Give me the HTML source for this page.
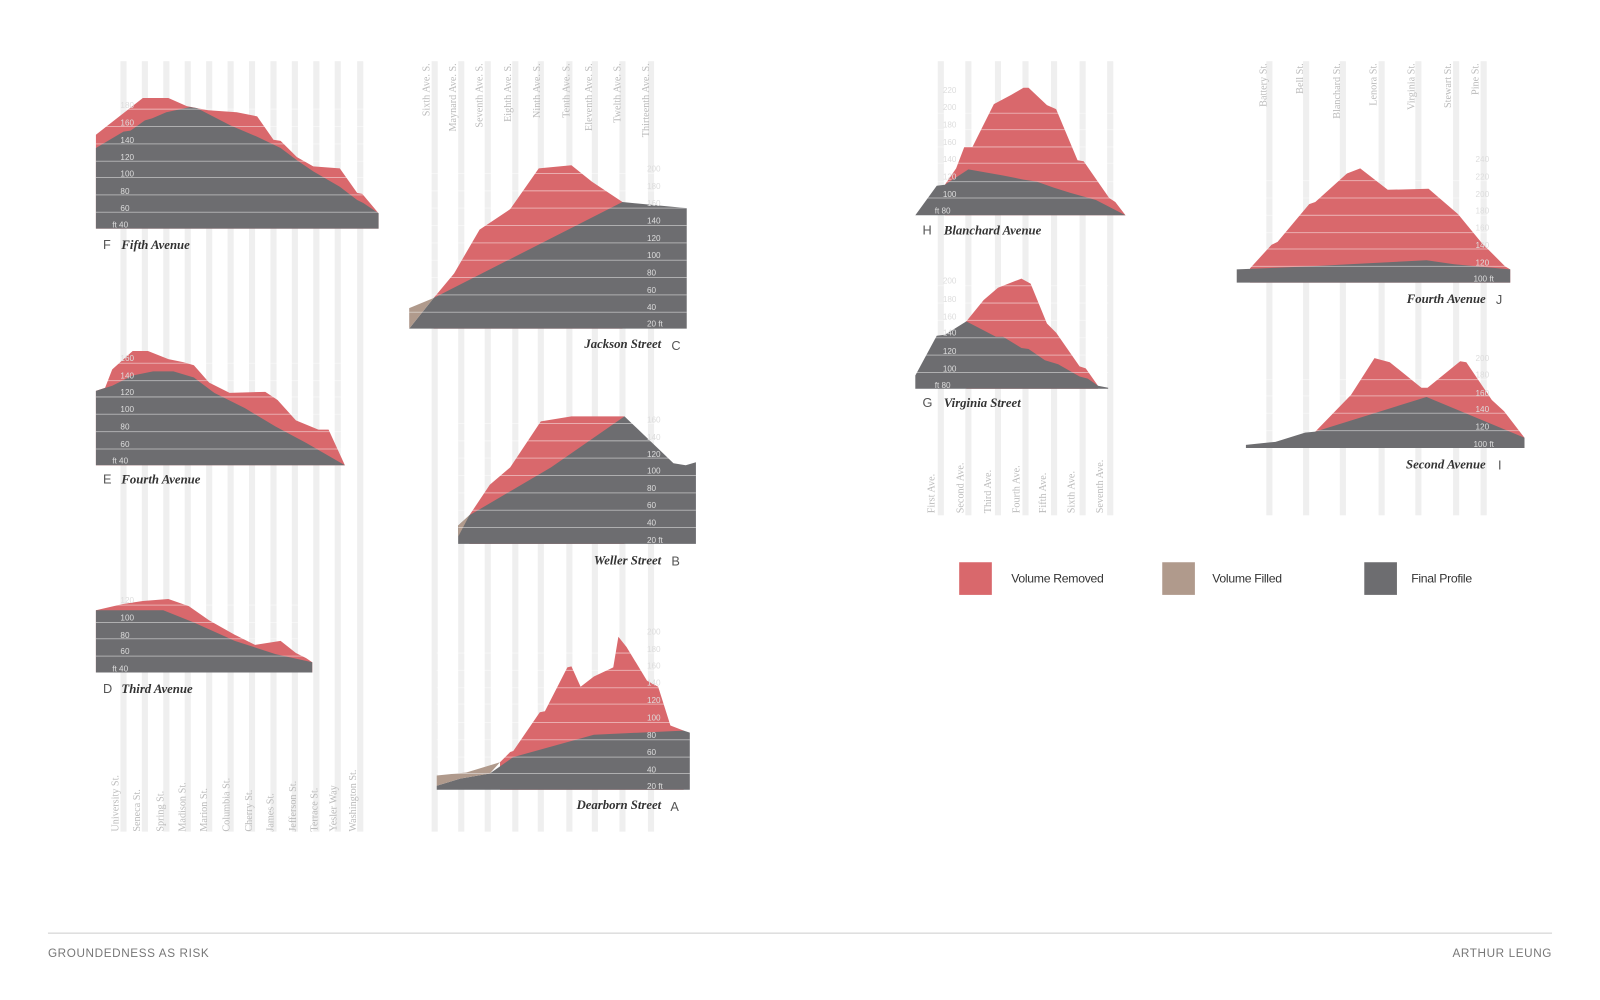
<!DOCTYPE html>
<html><head><meta charset="utf-8"><style>
html,body{margin:0;padding:0;background:#fff;width:1600px;height:1000px;overflow:hidden}
svg{display:block}
.st{fill:#efefef}
.r{fill:#d9686c}
.g{fill:#6d6d70}
.t{fill:#b09a8c}
.gl{stroke:#fff;stroke-opacity:.45;stroke-width:1}
.tk{font-family:"Liberation Sans",sans-serif;font-size:8px;fill:#ddd}
.sl{font-family:"Liberation Serif",serif;font-size:10px;fill:#bbb}
.ti{font-family:"Liberation Serif",serif;font-size:12.5px;font-style:italic;font-weight:bold;fill:#333}
.lt{font-family:"Liberation Sans",sans-serif;font-size:12.5px;fill:#555}
.lg{font-family:"Liberation Sans",sans-serif;font-size:12px;fill:#333;letter-spacing:-0.3px}
.ft{font-family:"Liberation Sans",sans-serif;font-size:11.5px;fill:#777;letter-spacing:0.6px}
</style></head><body>
<svg width="1600" height="1000" viewBox="0 0 1568 980" xmlns="http://www.w3.org/2000/svg">
<!-- stripes col1 -->
<g class="st">
<rect x="118" y="60" width="6" height="755"/><rect x="139" y="60" width="6" height="755"/><rect x="160" y="60" width="6" height="755"/><rect x="181" y="60" width="6" height="755"/><rect x="202" y="60" width="6" height="755"/><rect x="223" y="60" width="6" height="755"/><rect x="244" y="60" width="6" height="755"/><rect x="265" y="60" width="6" height="755"/><rect x="286" y="60" width="6" height="755"/><rect x="307" y="60" width="6" height="755"/><rect x="328" y="60" width="6" height="755"/><rect x="350" y="60" width="6" height="755"/>
<rect x="423" y="60" width="6" height="755"/><rect x="449" y="60" width="6" height="755"/><rect x="475" y="60" width="6" height="755"/><rect x="502" y="60" width="6" height="755"/><rect x="527" y="60" width="6" height="755"/><rect x="555" y="60" width="6" height="755"/><rect x="580" y="60" width="6" height="755"/><rect x="607" y="60" width="6" height="755"/><rect x="635" y="60" width="6" height="755"/>
<rect x="919" y="60" width="6" height="445"/><rect x="946" y="60" width="6" height="445"/><rect x="975" y="60" width="6" height="445"/><rect x="1002" y="60" width="6" height="445"/><rect x="1030" y="60" width="6" height="445"/><rect x="1058" y="60" width="6" height="445"/><rect x="1085" y="60" width="6" height="445"/>
<rect x="1241" y="60" width="6" height="445"/><rect x="1277" y="60" width="6" height="445"/><rect x="1313" y="60" width="6" height="445"/><rect x="1351" y="60" width="6" height="445"/><rect x="1387" y="60" width="6" height="445"/><rect x="1424" y="60" width="6" height="445"/><rect x="1451" y="60" width="6" height="445"/>
</g>
<!-- street labels -->
<g class="sl">
<text transform="translate(116,815) rotate(-90)">University St.</text>
<text transform="translate(137,815) rotate(-90)">Seneca St.</text>
<text transform="translate(160,815) rotate(-90)">Spring St.</text>
<text transform="translate(182,815) rotate(-90)">Madison St.</text>
<text transform="translate(203,815) rotate(-90)">Marion St.</text>
<text transform="translate(225,815) rotate(-90)">Columbia St.</text>
<text transform="translate(247,815) rotate(-90)">Cherry St.</text>
<text transform="translate(268,815) rotate(-90)">James St.</text>
<text transform="translate(290,815) rotate(-90)">Jefferson St.</text>
<text transform="translate(311,815) rotate(-90)">Terrace St.</text>
<text transform="translate(330,815) rotate(-90)">Yesler Way</text>
<text transform="translate(349,815) rotate(-90)">Washington St.</text>
</g>
<g class="sl" text-anchor="end">
<text transform="translate(421,62) rotate(-90)">Sixth Ave. S.</text>
<text transform="translate(447,62) rotate(-90)">Maynard Ave. S.</text>
<text transform="translate(473,62) rotate(-90)">Seventh Ave. S.</text>
<text transform="translate(501,62) rotate(-90)">Eighth Ave. S.</text>
<text transform="translate(529,62) rotate(-90)">Ninth Ave. S.</text>
<text transform="translate(558,62) rotate(-90)">Tenth Ave. S.</text>
<text transform="translate(580,62) rotate(-90)">Eleventh Ave. S.</text>
<text transform="translate(608,62) rotate(-90)">Twelth Ave. S.</text>
<text transform="translate(636,62) rotate(-90)">Thirteenth Ave. S.</text>
<text transform="translate(1241,62) rotate(-90)">Battery St.</text>
<text transform="translate(1277,62) rotate(-90)">Bell St.</text>
<text transform="translate(1313,62) rotate(-90)">Blanchard St.</text>
<text transform="translate(1349,62) rotate(-90)">Lenora St.</text>
<text transform="translate(1386,62) rotate(-90)">Virginia St.</text>
<text transform="translate(1422,62) rotate(-90)">Stewart St.</text>
<text transform="translate(1449,62) rotate(-90)">Pine St.</text>
</g>
<g class="sl">
<text transform="translate(916,503) rotate(-90)">First Ave.</text>
<text transform="translate(944,503) rotate(-90)">Second Ave.</text>
<text transform="translate(971,503) rotate(-90)">Third Ave.</text>
<text transform="translate(999,503) rotate(-90)">Fourth Ave.</text>
<text transform="translate(1025,503) rotate(-90)">Fifth Ave.</text>
<text transform="translate(1053,503) rotate(-90)">Sixth Ave.</text>
<text transform="translate(1081,503) rotate(-90)">Seventh Ave.</text>
</g>

<!-- F Fifth Avenue -->
<polygon class="r" points="94,132 140,96 165,96 183,104 204,108 232,110 252,114 268,137 275,138 291,154 307,163 333,165 350,189 355,190 371,209 371,224 94,224"/>
<polygon class="g" points="94,145 121,129 128,128 142,118 149,116 163,110 186,105 193,106 226,123 252,134 275,145 291,157 307,168 333,183 350,196 356,199 371,209 371,224 94,224"/>
<g class="gl"><line x1="94" x2="371" y1="208" y2="208"/><line x1="94" x2="371" y1="191" y2="191"/><line x1="94" x2="371" y1="174" y2="174"/><line x1="94" x2="371" y1="158" y2="158"/><line x1="94" x2="371" y1="141" y2="141"/><line x1="94" x2="371" y1="124" y2="124"/><line x1="94" x2="371" y1="107" y2="107"/></g>
<g class="tk"><text x="110" y="223">ft 40</text><text x="118" y="207">60</text><text x="118" y="190">80</text><text x="118" y="173">100</text><text x="118" y="157">120</text><text x="118" y="140">140</text><text x="118" y="123">160</text><text x="118" y="106">180</text></g>
<text class="lt" x="101" y="244">F</text><text class="ti" x="119" y="244">Fifth Avenue</text>

<!-- E Fourth Avenue -->
<polygon class="r" points="94,383 103,380 110,362 130,344 145,344 165,352 180,355 190,358 205,375 225,385 260,384 272,392 290,412 312,421 322,421 338,456 94,456"/>
<polygon class="g" points="94,383 110,378 130,368 150,364 170,364 190,370 210,385 240,400 270,418 300,434 338,456 94,456"/>
<g class="gl"><line x1="94" x2="338" y1="440" y2="440"/><line x1="94" x2="338" y1="423" y2="423"/><line x1="94" x2="338" y1="406" y2="406"/><line x1="94" x2="338" y1="389" y2="389"/><line x1="94" x2="338" y1="373" y2="373"/><line x1="94" x2="338" y1="356" y2="356"/></g>
<g class="tk"><text x="110" y="454">ft 40</text><text x="118" y="438">60</text><text x="118" y="421">80</text><text x="118" y="404">100</text><text x="118" y="387">120</text><text x="118" y="371">140</text><text x="118" y="354">160</text></g>
<text class="lt" x="101" y="474">E</text><text class="ti" x="119" y="474">Fourth Avenue</text>

<!-- D Third Avenue -->
<polygon class="r" points="94,598 120,592 140,589 165,587 185,594 205,608 230,622 250,632 275,628 290,640 300,645 306,649 306,659 94,659"/>
<polygon class="g" points="94,598 160,598 190,610 230,628 270,641 306,649 306,659 94,659"/>
<g class="gl"><line x1="94" x2="306" y1="643" y2="643"/><line x1="94" x2="306" y1="626" y2="626"/><line x1="94" x2="306" y1="610" y2="610"/><line x1="94" x2="306" y1="593" y2="593"/></g>
<g class="tk"><text x="110" y="658">ft 40</text><text x="118" y="641">60</text><text x="118" y="625">80</text><text x="118" y="608">100</text><text x="118" y="591">120</text></g>
<text class="lt" x="101" y="679">D</text><text class="ti" x="119" y="679">Third Avenue</text>

<!-- C Jackson Street -->
<polygon class="r" points="425,292 445,268 470,225 500,205 528,165 560,162 580,178 610,198 610,322 425,322"/>
<polygon class="g" points="401,322 425,292 610,198 673,204 673,322"/>
<polygon class="t" points="401,302 425,292 401,322"/>
<g class="gl"><line x1="401" x2="673" y1="306" y2="306"/><line x1="401" x2="673" y1="289" y2="289"/><line x1="401" x2="673" y1="272" y2="272"/><line x1="401" x2="673" y1="255" y2="255"/><line x1="401" x2="673" y1="238" y2="238"/><line x1="401" x2="673" y1="221" y2="221"/><line x1="401" x2="673" y1="204" y2="204"/><line x1="401" x2="673" y1="187" y2="187"/><line x1="401" x2="673" y1="170" y2="170"/></g>
<g class="tk"><text x="634" y="320">20 ft</text><text x="634" y="304">40</text><text x="634" y="287">60</text><text x="634" y="270">80</text><text x="634" y="253">100</text><text x="634" y="236">120</text><text x="634" y="219">140</text><text x="634" y="202">160</text><text x="634" y="185">180</text><text x="634" y="168">200</text></g>
<text class="ti" x="648" y="341" text-anchor="end">Jackson Street</text><text class="lt" x="658" y="343">C</text>

<!-- B Weller Street -->
<polygon class="r" points="460,505 480,475 500,458 530,413 560,408 612,408 612,533 460,533"/>
<polygon class="g" points="449,533 449,515 460,505 540,458 612,408 660,454 672,456 682,453 682,533"/>
<polygon class="t" points="449,515 460,505 449,526"/>
<g class="gl"><line x1="449" x2="682" y1="517" y2="517"/><line x1="449" x2="682" y1="500" y2="500"/><line x1="449" x2="682" y1="483" y2="483"/><line x1="449" x2="682" y1="466" y2="466"/><line x1="449" x2="682" y1="449" y2="449"/><line x1="449" x2="682" y1="432" y2="432"/><line x1="449" x2="682" y1="415" y2="415"/></g>
<g class="tk"><text x="634" y="532">20 ft</text><text x="634" y="515">40</text><text x="634" y="498">60</text><text x="634" y="481">80</text><text x="634" y="464">100</text><text x="634" y="448">120</text><text x="634" y="431">140</text><text x="634" y="414">160</text></g>
<text class="ti" x="648" y="553" text-anchor="end">Weller Street</text><text class="lt" x="658" y="554">B</text>

<!-- A Dearborn Street -->
<polygon class="r" points="490,747 500,737 503,736 529,698 534,697 556,654 560,653 569,673 582,663 601,654 606,624 614,634 634,667 645,673 657,711 670,716 670,774 490,774"/>
<polygon class="g" points="428,774 428,770 451,763 480,758 503,742 582,720 670,716 676,718 676,774"/>
<polygon class="t" points="428,760 457,757 490,747 480,758 451,763 428,770"/>
<g class="gl"><line x1="428" x2="676" y1="758" y2="758"/><line x1="428" x2="676" y1="742" y2="742"/><line x1="428" x2="676" y1="725" y2="725"/><line x1="428" x2="676" y1="708" y2="708"/><line x1="428" x2="676" y1="690" y2="690"/><line x1="428" x2="676" y1="674" y2="674"/><line x1="428" x2="676" y1="657" y2="657"/><line x1="428" x2="676" y1="640" y2="640"/></g>
<g class="tk"><text x="634" y="773">20 ft</text><text x="634" y="757">40</text><text x="634" y="740">60</text><text x="634" y="723">80</text><text x="634" y="706">100</text><text x="634" y="689">120</text><text x="634" y="672">140</text><text x="634" y="655">160</text><text x="634" y="639">180</text><text x="634" y="622">200</text></g>
<text class="ti" x="648" y="793" text-anchor="end">Dearborn Street</text><text class="lt" x="657" y="795">A</text>

<!-- H Blanchard Avenue -->
<polygon class="r" points="926,181 937,165 945,144 953,144 974,102 991,93 1003,86 1008,86 1026,103 1035,107 1056,157 1062,158 1087,194 1093,198 1103,211 926,211"/>
<polygon class="g" points="897,211 918,182 926,181 949,166 983,172 1003,176 1016,178 1033,184 1049,189 1074,196 1103,211"/>
<g class="gl"><line x1="897" x2="1103" y1="194" y2="194"/><line x1="897" x2="1103" y1="178" y2="178"/><line x1="897" x2="1103" y1="160" y2="160"/><line x1="897" x2="1103" y1="144" y2="144"/><line x1="897" x2="1103" y1="127" y2="127"/><line x1="897" x2="1103" y1="111" y2="111"/></g>
<g class="tk"><text x="924" y="91">220</text><text x="924" y="108">200</text><text x="924" y="125">180</text><text x="924" y="142">160</text><text x="924" y="159">140</text><text x="924" y="176">120</text><text x="924" y="193">100</text><text x="916" y="209">ft 80</text></g>
<text class="lt" x="904" y="230">H</text><text class="ti" x="925" y="230">Blanchard Avenue</text>

<!-- G Virginia Street -->
<polygon class="r" points="947,315 964,294 978,282 1001,273 1010,278 1026,317 1035,326 1058,359 1064,361 1076,378 1076,381 947,381"/>
<polygon class="g" points="897,381 897,368 918,329 926,328 947,315 976,330 983,330 1001,341 1008,342 1024,353 1037,357 1058,369 1066,371 1076,378 1086,380 1086,381"/>
<g class="gl"><line x1="897" x2="1086" y1="365" y2="365"/><line x1="897" x2="1086" y1="348" y2="348"/><line x1="897" x2="1086" y1="331" y2="331"/><line x1="897" x2="1086" y1="314" y2="314"/><line x1="897" x2="1086" y1="297" y2="297"/><line x1="897" x2="1086" y1="280" y2="280"/></g>
<g class="tk"><text x="924" y="278">200</text><text x="924" y="296">180</text><text x="924" y="313">160</text><text x="924" y="329">140</text><text x="924" y="347">120</text><text x="924" y="364">100</text><text x="916" y="380">ft 80</text></g>
<text class="lt" x="904" y="399">G</text><text class="ti" x="925" y="399">Virginia Street</text>

<!-- J Fourth Avenue -->
<polygon class="r" points="1225,263 1246,240 1252,237 1283,200 1289,198 1320,170 1333,165 1360,186 1400,185 1429,210 1452,238 1475,261 1480,264 1480,277 1225,277"/>
<polygon class="g" points="1212,277 1212,264 1283,261 1341,258 1398,255 1425,259 1480,264 1480,277"/>
<g class="gl"><line x1="1212" x2="1480" y1="261" y2="261"/><line x1="1212" x2="1480" y1="244" y2="244"/><line x1="1212" x2="1480" y1="228" y2="228"/><line x1="1212" x2="1480" y1="211" y2="211"/><line x1="1212" x2="1480" y1="194" y2="194"/><line x1="1212" x2="1480" y1="177" y2="177"/></g>
<g class="tk"><text x="1446" y="159">240</text><text x="1446" y="176">220</text><text x="1446" y="193">200</text><text x="1446" y="209">180</text><text x="1446" y="226">160</text><text x="1446" y="243">140</text><text x="1446" y="260">120</text><text x="1444" y="276">100 ft</text></g>
<text class="ti" x="1456" y="297" text-anchor="end">Fourth Avenue</text><text class="lt" x="1466" y="298">J</text>

<!-- I Second Avenue -->
<polygon class="r" points="1289,423 1324,387 1347,351 1362,355 1393,380 1399,380 1431,354 1437,355 1462,392 1474,403 1494,429 1494,439 1289,439"/>
<polygon class="g" points="1221,439 1221,436 1250,433 1279,424 1289,423 1398,389 1494,429 1494,439"/>
<g class="gl"><line x1="1221" x2="1494" y1="422" y2="422"/><line x1="1221" x2="1494" y1="405" y2="405"/><line x1="1221" x2="1494" y1="388" y2="388"/><line x1="1221" x2="1494" y1="372" y2="372"/></g>
<g class="tk"><text x="1446" y="354">200</text><text x="1446" y="370">180</text><text x="1446" y="388">160</text><text x="1446" y="404">140</text><text x="1446" y="421">120</text><text x="1444" y="438">100 ft</text></g>
<text class="ti" x="1456" y="459" text-anchor="end">Second Avenue</text><text class="lt" x="1468" y="460">I</text>

<!-- legend -->
<rect class="r" x="940" y="551" width="32" height="32"/><text class="lg" x="991" y="571">Volume Removed</text>
<rect class="t" x="1139" y="551" width="32" height="32"/><text class="lg" x="1188" y="571">Volume Filled</text>
<rect class="g" x="1337" y="551" width="32" height="32"/><text class="lg" x="1383" y="571">Final Profile</text>

<!-- footer -->
<line x1="47" x2="1521" y1="914.5" y2="914.5" stroke="#ccc" stroke-width="1"/>
<text class="ft" x="47" y="938">GROUNDEDNESS AS RISK</text>
<text class="ft" x="1521" y="938" text-anchor="end">ARTHUR LEUNG</text>
</svg>
</body></html>
